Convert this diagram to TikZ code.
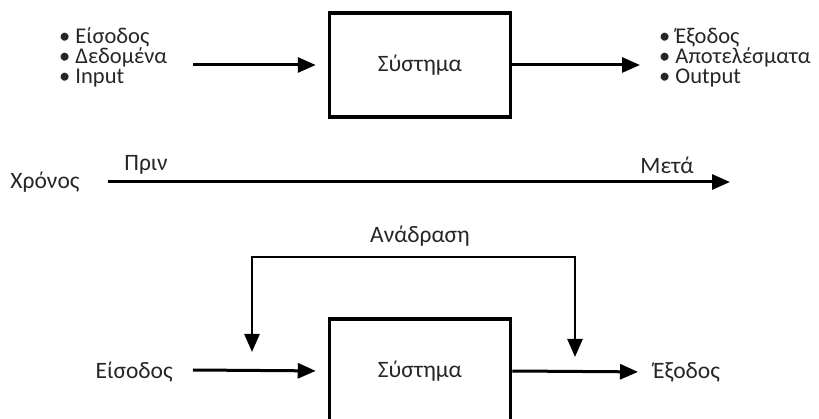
\documentclass[tikz,border=0pt]{standalone}
\usepackage{fontspec}
\setmainfont{Carlito}
\usetikzlibrary{arrows.meta}
\begin{document}
\begin{tikzpicture}[x=1pt,y=-1pt,
  lbl/.style={inner sep=0pt, font=\fontsize{23.5}{21}\selectfont, text=black!85},
  item/.style={inner sep=0pt, anchor=base west, font=\fontsize{22.5}{20}\selectfont, text=black!85},
  sysbox/.style={draw, line width=3.5pt, minimum width=181pt, minimum height=104pt, inner sep=0pt, font=\fontsize{23.5}{21}\selectfont, text=black!85},
  arr/.style={line width=3pt, -{Triangle[length=18pt,width=15pt]}},
  fb/.style={line width=2.5pt, {Triangle[length=18pt,width=15pt]}-{Triangle[length=18pt,width=15pt]}}
]
\useasboundingbox (0,0) rectangle (819,419);
\clip (0,0) rectangle (819,419);
% top row
\node[sysbox] (sys1) at (420,65) {Σύστημα};
\node[item] (in1) at (59,44) {• Είσοδος};
\node[item] (in2l) at (59,64) {• Δεδομένα};
\node[item] (in3) at (59,84) {• Input};
\node[item] (out1) at (659,44) {• Έξοδος};
\node[item] (out2l) at (659,64) {• Αποτελέσματα};
\node[item] (out3) at (659,84) {• Output};
\coordinate (a1s) at (193,65);
\coordinate (a1e) at (640,65);
\draw[arr, shorten >=12pt] (a1s) -- (sys1.west);
\draw[arr] (sys1.east) -- (a1e);
% time axis
\node[lbl] (chronos) at (45,182) {Χρόνος};
\node[lbl] (prin) at (146,165) {Πριν};
\node[lbl] (meta) at (667,165) {Μετά};
\coordinate (t0) at (108,182);
\coordinate (t1) at (730,182);
\draw[arr] (t0) -- (t1);
% bottom row
\node[sysbox] (sys2) at (420,371) {Σύστημα};
\node[lbl, anchor=east] (in2) at (173,372) {Είσοδος};
\node[lbl, anchor=west] (out2) at (653,372) {Έξοδος};
\node[lbl] (fbl) at (420,236) {Ανάδραση};
\draw[arr, shorten >=12pt] (in2.east) ++(20,-2) coordinate (b1s) -- (sys2.west);
\draw[arr, shorten >=15pt] (sys2.east) -- (out2.west);
\coordinate (fL) at (252,352);
\coordinate (fT) at (420,257);
\coordinate (fR) at (575,357);
\draw[fb] (fL) |- (fT) -| (fR);
\end{tikzpicture}
\end{document}
